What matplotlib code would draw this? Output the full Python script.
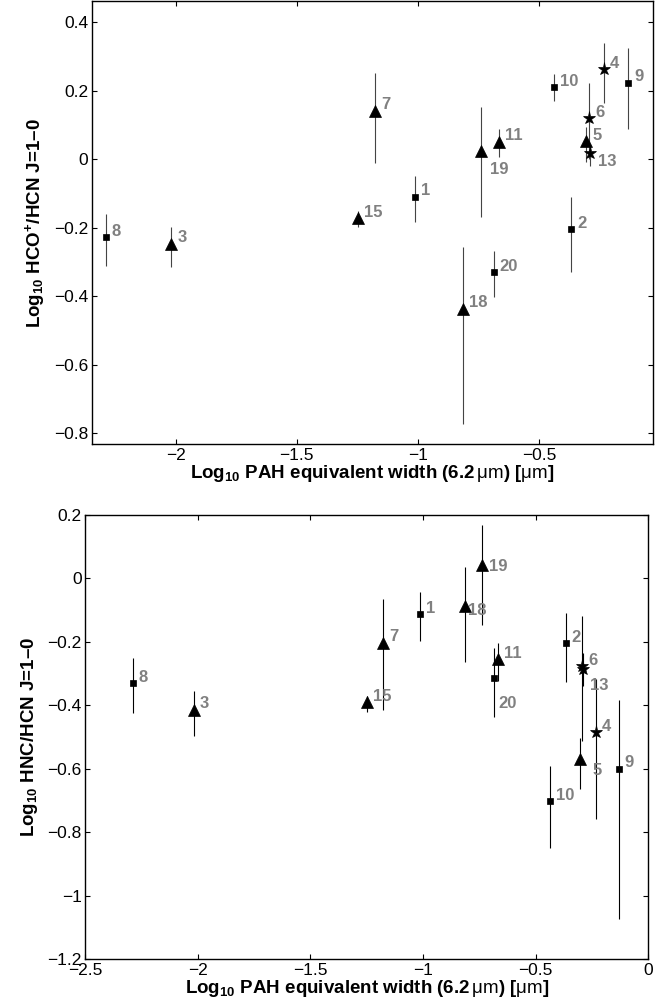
import matplotlib
matplotlib.use("Agg")
import matplotlib.pyplot as plt
import numpy as np

plt.rcParams['font.family'] = ['Liberation Sans', 'DejaVu Sans']
plt.rcParams['mathtext.fontset'] = 'custom'
plt.rcParams['mathtext.rm'] = 'Liberation Sans'
plt.rcParams['mathtext.bf'] = 'Liberation Sans:bold'
plt.rcParams['mathtext.it'] = 'Liberation Sans:italic'

# source numbers and marker class
ids = [1, 2, 3, 4, 5, 6, 7, 8, 9, 10, 11, 13, 15, 18, 19, 20]
kind = ['sq', 'sq', 'tri', 'star', 'tri', 'star', 'tri', 'sq', 'sq', 'sq',
        'tri', 'star', 'tri', 'tri', 'tri', 'sq']

# Log10 PAH equivalent width (6.2 um)
pah = [-1.013, -0.367, -2.019, -0.233, -0.305, -0.293, -1.177, -2.290, -0.131,
       -0.438, -0.667, -0.290, -1.248, -0.813, -0.738, -0.687]

# Log10 HCO+/HCN, with lower / upper ends of the error bars
hco = [-0.110, -0.204, -0.247, 0.263, 0.053, 0.120, 0.141, -0.228, 0.224,
       0.210, 0.051, 0.017, -0.172, -0.437, 0.025, -0.330]
hco_lo = [-0.184, -0.330, -0.314, 0.165, -0.007, 0.000, -0.012, -0.311, 0.088,
          0.171, 0.006, -0.020, -0.197, -0.774, -0.168, -0.403]
hco_hi = [-0.048, -0.109, -0.197, 0.340, 0.093, 0.222, 0.251, -0.161, 0.324,
          0.249, 0.088, 0.042, -0.150, -0.255, 0.154, -0.268]

# Log10 HNC/HCN, with lower / upper ends of the error bars
hnc = [-0.113, -0.204, -0.414, -0.484, -0.570, -0.277, -0.203, -0.330, -0.599,
       -0.701, -0.255, -0.285, -0.390, -0.086, 0.041, -0.314]
hnc_lo = [-0.198, -0.327, -0.497, -0.756, -0.664, -0.511, -0.415, -0.425, -1.073,
          -0.848, -0.324, -0.338, -0.420, -0.264, -0.148, -0.437]
hnc_hi = [-0.044, -0.110, -0.354, -0.316, -0.502, -0.119, -0.066, -0.252, -0.382,
          -0.592, -0.203, -0.234, -0.370, 0.036, 0.167, -0.220]

top_xticks = [-2, -1.5, -1, -0.5]
top_yticks = [0.4, 0.2, 0, -0.2, -0.4, -0.6, -0.8]
bot_xticks = [-2.5, -2, -1.5, -1, -0.5, 0]
bot_yticks = [0.2, 0, -0.2, -0.4, -0.6, -0.8, -1, -1.2]

xlabel = r'Log$_{\mathbf{10}}$ PAH equivalent width (6.2$\,\mathrm{\mu m}$) [$\mathrm{\mu m}$]'
ylabel_top = 'Log$_{\\mathbf{10}}$ HCO$^{\\mathbf{+}}$/HCN J=1\u20130'
ylabel_bot = 'Log$_{\\mathbf{10}}$ HNC/HCN J=1\u20130'

# label offsets in pixels (dx right, dy down) where they differ from default
top_offsets = {19: (9, 19), 13: (8, 8)}
bot_offsets = {18: (3, 5), 19: (7, 1), 20: (5, 25), 13: (7, 17), 5: (13, 11)}

markers = {'sq': ('s', 5), 'tri': ('^', 9), 'star': ('*', 9.5)}


def fmt(v):
    return ('%g' % v).replace('-', '\u2212')


def panel(ax, y, lo, hi, offsets, ecolor):
    x = np.array(pah)
    y = np.array(y)
    yerr = [y - np.array(lo), np.array(hi) - y]
    ax.errorbar(x, y, yerr=yerr, fmt='none', ecolor=ecolor, elinewidth=0.8,
                capsize=0, zorder=2)
    for k, (m, ms) in markers.items():
        sel = np.array([kk == k for kk in kind])
        ax.plot(x[sel], y[sel], linestyle='none', marker=m, ms=ms,
                color='black', mec='black', mew=0.5, zorder=3)
    for i, n in enumerate(ids):
        dx, dy = offsets.get(n, (6, -6))
        ax.annotate(str(n), (x[i], y[i]), xytext=(dx * 0.72, -dy * 0.72),
                    textcoords='offset points', ha='left', va='center',
                    fontsize=12, fontweight='bold', color='#808080', zorder=4)
    ax.tick_params(direction='in', length=3.6, width=0.8, top=True, right=True,
                   labelsize=12.5, pad=2.5)
    for s in ax.spines.values():
        s.set_linewidth(1.0)


fig = plt.figure(figsize=(6.7, 10.07), dpi=100)

ax1 = fig.add_axes([0.1369, 0.5588, 0.8382, 0.4402])
panel(ax1, hco, hco_lo, hco_hi, top_offsets, '#444444')
ax1.set_xlim(-2.347, -0.028)
ax1.set_ylim(-0.832, 0.462)
ax1.set_xticks(top_xticks)
ax1.set_xticklabels([fmt(v) for v in top_xticks])
ax1.set_yticks(top_yticks)
ax1.set_yticklabels([fmt(v) for v in top_yticks])
ax1.set_xlabel(xlabel, fontsize=13.5, fontweight='bold', labelpad=0)
ax1.set_ylabel(ylabel_top, fontsize=13.5, fontweight='bold', labelpad=5)

ax2 = fig.add_axes([0.1273, 0.0472, 0.8403, 0.4414])
panel(ax2, hnc, hnc_lo, hnc_hi, bot_offsets, 'black')
ax2.set_xlim(-2.5, 0)
ax2.set_ylim(-1.2, 0.2)
ax2.set_xticks(bot_xticks)
ax2.set_xticklabels([fmt(v) for v in bot_xticks])
ax2.set_yticks(bot_yticks)
ax2.set_yticklabels([fmt(v) for v in bot_yticks])
ax2.set_xlabel(xlabel, fontsize=13.5, fontweight='bold', labelpad=0)
ax2.set_ylabel(ylabel_bot, fontsize=13.5, fontweight='bold', labelpad=5)

fig.savefig('out.png', dpi=100)
